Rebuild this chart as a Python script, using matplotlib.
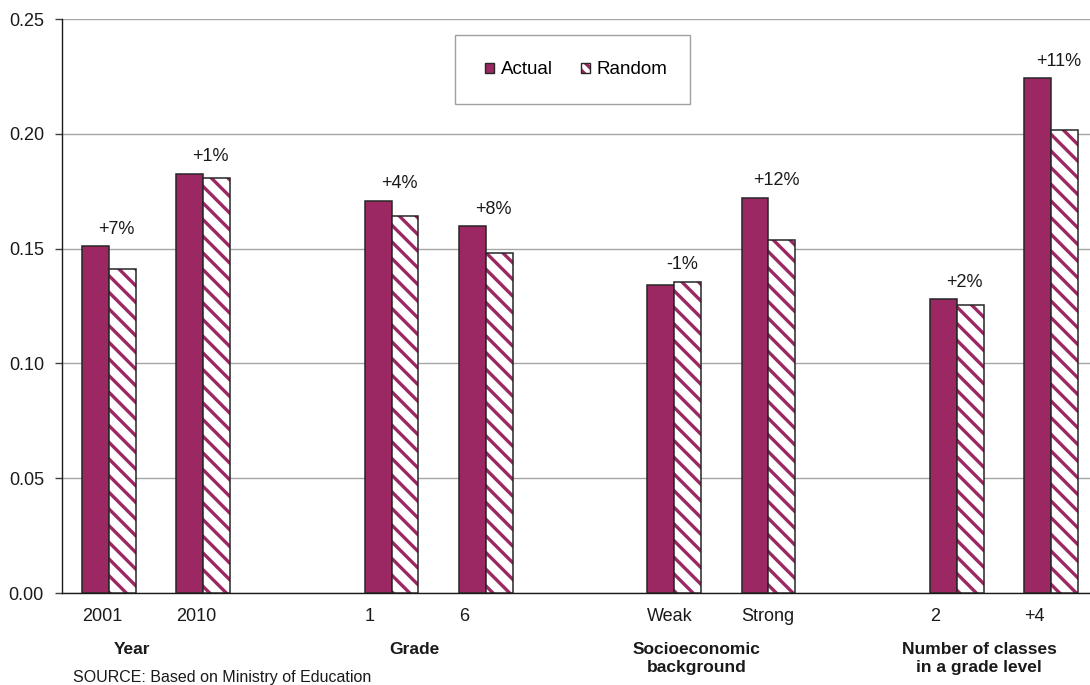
import matplotlib
matplotlib.use("Agg")
import matplotlib.pyplot as plt
from matplotlib.patches import Rectangle, Patch
import numpy as np

plt.rcParams['font.family'] = ['Liberation Sans', 'DejaVu Sans']
plt.rcParams['hatch.linewidth'] = 2.4

# Data
categories = ["2001", "2010", "1", "6", "Weak", "Strong", "2", "+4"]
groups = ["Year", "Grade", "Socioeconomic\nbackground", "Number of classes\nin a grade level"]
actual = [0.151, 0.1827, 0.1709, 0.1597, 0.1340, 0.1722, 0.1281, 0.2241]
random_ = [0.1412, 0.1808, 0.1642, 0.1481, 0.1356, 0.1536, 0.1256, 0.2017]
diff_labels = ["+7%", "+1%", "+4%", "+8%", "-1%", "+12%", "+2%", "+11%"]
yticks = [0.00, 0.05, 0.10, 0.15, 0.20, 0.25]

MAROON = "#9B2862"
EDGE = "#262626"
TEXT = "#1a1a1a"

fig = plt.figure(figsize=(10.9, 6.85), dpi=100)
W, H = 1090, 685
ax = fig.add_axes([62 / W, 1 - 593 / H, 1036 / W, (593 - 19) / H])

# two slots per group, one empty slot between groups
x = np.array([0, 1, 3, 4, 6, 7, 9, 10], dtype=float)
bw = 0.285

ax.bar(x - bw / 2, actual, bw, color=MAROON, edgecolor=EDGE, linewidth=1.1, zorder=3)
ax.bar(x + bw / 2, random_, bw, color="white", edgecolor=MAROON, hatch="\\\\",
       linewidth=0, zorder=3)
ax.bar(x + bw / 2, random_, bw, fill=False, edgecolor=EDGE, linewidth=1.1, zorder=4)

# percentage difference above each pair
for xi, a, r, lab in zip(x, actual, random_, diff_labels):
    ax.annotate(lab, (xi + 0.08, max(a, r)), xytext=(0, 6), textcoords="offset points",
                ha="center", va="bottom", fontsize=13, color=TEXT)

ax.set_xlim(-0.5, 10.5)
ax.set_ylim(0, 0.25)
ax.set_yticks(yticks)
ax.set_yticklabels([f"{v:.2f}" for v in yticks], fontsize=13, color=TEXT)
ax.tick_params(axis="y", length=5, width=1, color="#404040", pad=8)
ax.set_xticks(x - bw)
ax.set_xticklabels(categories, fontsize=13, ha="left", color=TEXT)
ax.tick_params(axis="x", length=0, pad=11)

ax.yaxis.grid(True, color="#A6A6A6", linewidth=1.0, zorder=0)
ax.set_axisbelow(True)
for s in ["top", "right"]:
    ax.spines[s].set_visible(False)
for s in ["left", "bottom"]:
    ax.spines[s].set_color(TEXT)
    ax.spines[s].set_linewidth(1.0)

# group captions under the category labels
trans = ax.get_xaxis_transform()
group_mid = [(x[i] + x[i + 1]) / 2 for i in range(0, len(x), 2)]
for gm, g in zip(group_mid, groups):
    ax.text(gm - 0.26, -0.085, g, transform=trans, ha="center", va="top",
            fontsize=12.5, fontweight="bold", color=TEXT, linespacing=1.3)

# legend with a separate square frame
fig.add_artist(Rectangle((455 / W, 1 - 104 / H), 235 / W, 69 / H, transform=fig.transFigure,
                         facecolor="white", edgecolor="#A0A0A0", linewidth=1.0, zorder=5))
h_actual = Patch(facecolor=MAROON, edgecolor=EDGE, linewidth=1.0)
h_random = (Patch(facecolor="white", edgecolor=MAROON, hatch="\\\\\\", linewidth=0),
            Patch(fill=False, edgecolor=EDGE, linewidth=1.0))
leg = fig.legend(handles=[h_actual, h_random], labels=["Actual", "Random"], loc="center",
                 bbox_to_anchor=(576 / W, 1 - 70 / H), ncol=2, frameon=False, fontsize=13.5,
                 handlelength=0.5, handleheight=0.5, handletextpad=0.35, columnspacing=1.5)
leg.set_zorder(6)

fig.text(73 / W, 1 - 670 / H, "SOURCE: Based on Ministry of Education", ha="left", va="top",
         fontsize=11.5, color=TEXT)

fig.savefig("out.png", dpi=100)
